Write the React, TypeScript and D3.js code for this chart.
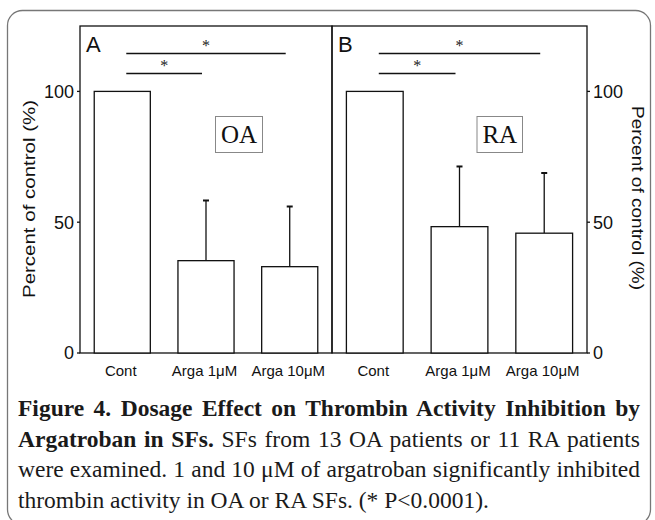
import React, { useLayoutEffect, useRef } from 'react';
import * as d3 from 'd3';

// bar heights (% of control) and upper SD
const categories = ['Cont', 'Arga 1μM', 'Arga 10μM'];
const oaMeans = [100, 35.3, 33.0];
const oaSd = [0, 23.0, 23.0];
const raMeans = [100, 48.3, 45.8];
const raSd = [0, 23.0, 23.0];
const yTicks = [0, 50, 100];
// significance brackets: [from, to, label]
const comparisons: [number, number, string][] = [
  [0, 2, '*'],
  [0, 1, '*'],
];

const captionLines = [
  [{ t: 'Figure 4. Dosage Effect on Thrombin Activity Inhibition by', b: true }],
  [
    { t: 'Argatroban in SFs.', b: true },
    { t: ' SFs from 13 OA patients or 11 RA patients', b: false },
  ],
  [{ t: 'were examined. 1 and 10 μM of argatroban significantly inhibited', b: false }],
  [{ t: 'thrombin activity in OA or RA SFs. (* P<0.0001).', b: false }],
];
const justified = [true, true, true, false];

const W = 655;
const H = 520;
const sans = '"Liberation Sans", Arial, sans-serif';
const serif = '"Liberation Serif", "Times New Roman", serif';

const y = d3.scaleLinear().domain([0, 125]).range([353, 26]);

const panels = [
  { letter: 'A', group: 'OA', x0: 80, x1: 332, side: 'left', means: oaMeans, sd: oaSd, box: [215.5, 116.5, 47, 36] },
  { letter: 'B', group: 'RA', x0: 332, x1: 587, side: 'right', means: raMeans, sd: raSd, box: [477, 116.5, 45.5, 36] },
];

const bracketY = [53.5, 73.5];

function Panel({ p }: { p: (typeof panels)[number] }) {
  const x = d3.scaleBand<string>().domain(categories).range([p.x0, p.x1]).paddingInner(0.33).paddingOuter(0.17);
  const bw = x.bandwidth();
  const cx = (i: number) => (x(categories[i]) as number) + bw / 2;
  const axisX = p.side === 'left' ? p.x0 : p.x1;
  const dir = p.side === 'left' ? -1 : 1;

  return (
    <g>
      <rect x={p.x0} y={y(125)} width={p.x1 - p.x0} height={y(0) - y(125)} fill="none" stroke="#111" strokeWidth={1.3} />
      <text x={p.x0 + 6} y={52} fontFamily={sans} fontSize={22} fill="#111">{p.letter}</text>

      {categories.map((c, i) => {
        const m = p.means[i];
        const top = m + p.sd[i];
        return (
          <g key={c}>
            {p.sd[i] > 0 && (
              <g stroke="#111">
                <line x1={cx(i)} x2={cx(i)} y1={y(m)} y2={y(top)} strokeWidth={1.3} />
                <line x1={cx(i) - 3} x2={cx(i) + 3} y1={y(top)} y2={y(top)} strokeWidth={2} />
              </g>
            )}
            <rect x={x(c)} y={y(m)} width={bw} height={y(0) - y(m)} fill="#fff" stroke="#111" strokeWidth={1.3} />
            <text x={cx(i) - 1.5} y={376} textAnchor="middle" fontFamily={sans} fontSize={15} fill="#111">{c}</text>
          </g>
        );
      })}

      {yTicks.map((t) => (
        <g key={t}>
          <line x1={axisX} x2={axisX + dir * 3} y1={y(t)} y2={y(t)} stroke="#111" strokeWidth={1.3} />
          <text
            x={axisX + dir * 6}
            y={y(t)}
            dy="0.36em"
            textAnchor={p.side === 'left' ? 'end' : 'start'}
            fontFamily={sans}
            fontSize={18}
            fill="#111"
          >
            {t}
          </text>
        </g>
      ))}

      {comparisons.map(([a, b, label], k) => {
        const x1 = cx(a) + 4;
        const x2 = cx(b) - 4;
        return (
          <g key={k}>
            <line x1={x1} x2={x2} y1={bracketY[k]} y2={bracketY[k]} stroke="#111" strokeWidth={1.3} />
            <text x={(x1 + x2) / 2} y={bracketY[k] - 3} textAnchor="middle" fontFamily={serif} fontSize={16} fill="#222">{label}</text>
          </g>
        );
      })}

      <rect x={p.box[0]} y={p.box[1]} width={p.box[2]} height={p.box[3]} fill="#fff" stroke="#888" strokeWidth={1} />
      <text
        x={p.box[0] + p.box[2] / 2}
        y={p.box[1] + p.box[3] / 2}
        dy="0.35em"
        textAnchor="middle"
        fontFamily={serif}
        fontSize={25}
        fill="#111"
      >
        {p.group}
      </text>
    </g>
  );
}

export default function App() {
  const lineRefs = useRef<(SVGTextElement | null)[]>([]);

  useLayoutEffect(() => {
    lineRefs.current.forEach((el, i) => {
      if (!el || !justified[i]) return;
      el.style.wordSpacing = '0px';
      const natural = el.getComputedTextLength();
      const full = captionLines[i].map((s) => s.t).join('');
      const spaces = (full.match(/ /g) || []).length;
      if (spaces > 0) el.style.wordSpacing = `${(622 - natural) / spaces}px`;
    });
  }, []);

  return (
    <svg width={W} height={H} style={{ position: 'absolute', left: 0, top: 0, background: '#fff' }}>
      <rect x={7.5} y={10.5} width={643} height={514} rx={15} fill="#fff" stroke="#777" strokeWidth={1.3} />

      {panels.map((p) => (
        <Panel key={p.letter} p={p} />
      ))}

      <text transform="translate(35,199) rotate(-90)" textAnchor="middle" fontFamily={sans} fontSize={17} fill="#111" textLength={198} lengthAdjust="spacingAndGlyphs">
        Percent of control (%)
      </text>
      <text transform="translate(632,198) rotate(90)" textAnchor="middle" fontFamily={sans} fontSize={17} fill="#111" textLength={184} lengthAdjust="spacingAndGlyphs">
        Percent of control (%)
      </text>

      {captionLines.map((segs, i) => (
        <text
          key={i}
          ref={(el) => {
            lineRefs.current[i] = el;
          }}
          x={18}
          y={416 + i * 30.5}
          fontFamily={serif}
          fontSize={23.5}
          fill="#1a1a1a"
          style={{ whiteSpace: 'pre' }}
        >
          {segs.map((s, j) => (
            <tspan key={j} fontWeight={s.b ? 'bold' : 'normal'}>{s.t}</tspan>
          ))}
        </text>
      ))}
    </svg>
  );
}
